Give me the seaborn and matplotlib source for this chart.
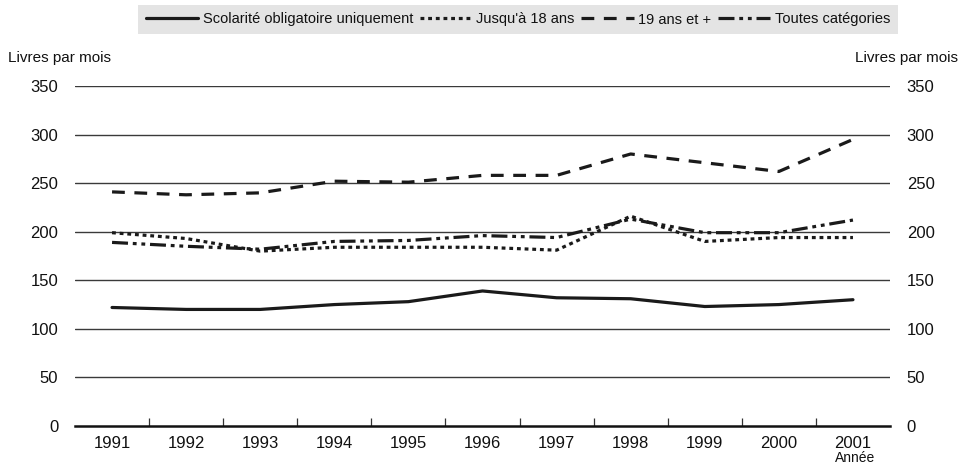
import matplotlib
matplotlib.use("Agg")
import matplotlib.pyplot as plt
from matplotlib import font_manager
import seaborn as sns
import pandas as pd
from matplotlib.lines import Line2D

years = ["1991", "1992", "1993", "1994", "1995", "1996", "1997", "1998", "1999", "2000", "2001"]
scolarite = [122, 120, 120, 125, 128, 139, 132, 131, 123, 125, 130]
jusqua18 = [199, 193, 180, 184, 184, 184, 181, 216, 190, 194, 194]
ans19plus = [241, 238, 240, 252, 251, 258, 258, 280, 271, 262, 295]
toutes = [189, 185, 182, 190, 191, 196, 194, 213, 199, 199, 212]

series_names = ["Scolarité obligatoire uniquement", "Jusqu'à 18 ans", "19 ans et +", "Toutes catégories"]
series_values = [scolarite, jusqua18, ans19plus, toutes]

rows = []
for name, vals in zip(series_names, series_values):
    for i, v in enumerate(vals):
        rows.append({"idx": i, "value": v, "series": name})
df = pd.DataFrame(rows)

sns.set_theme(style="white")
names = {f.name for f in font_manager.fontManager.ttflist}
fam = "Liberation Sans Narrow" if "Liberation Sans Narrow" in names else "Liberation Sans"
plt.rcParams["font.family"] = [fam, "DejaVu Sans"]

dashes = {
    series_names[0]: "",
    series_names[1]: (1.2, 1.2),
    series_names[2]: (4, 3),
    series_names[3]: (5, 1.5, 1.2, 1.5, 1.2, 1.5),
}
palette = {n: "#1a1a1a" for n in series_names}

fig = plt.figure(figsize=(9.62, 4.66), dpi=100)
ax = fig.add_axes([75 / 962, 1 - 426 / 466, (890 - 75) / 962, (426 - 86) / 466])

for y in range(50, 351, 50):
    ax.axhline(y, color="#3a3a3a", lw=1.0, zorder=1)

sns.lineplot(data=df, x="idx", y="value", hue="series", style="series",
             palette=palette, dashes=dashes, linewidth=2.3, ax=ax, legend=False,
             zorder=3)

ax.set_xlim(-0.5, 10.5)
ax.set_ylim(0, 350)
ax.set_xlabel("")
ax.set_ylabel("")
for s in ["top", "left", "right"]:
    ax.spines[s].set_visible(False)
ax.spines["bottom"].set_color("#111111")
ax.spines["bottom"].set_linewidth(1.8)

ax.set_xticks(range(len(years)))
ax.set_xticklabels(years, fontsize=12)
ax.set_xticks([i + 0.5 for i in range(len(years) - 1)], minor=True)
ax.tick_params(axis="x", which="major", length=0, pad=7, colors="#111111")
ax.tick_params(axis="x", which="minor", direction="in", length=6, width=0.9, color="#333333", bottom=True)

ax.set_yticks(range(0, 351, 50))
ax.tick_params(axis="y", length=0, labelsize=12, labelleft=True, labelright=True, pad=12, colors="#111111")

fig.text(8 / 962, 1 - 58 / 466, "Livres par mois", fontsize=11, ha="left", va="center", color="#111111")
fig.text(958 / 962, 1 - 58 / 466, "Livres par mois", fontsize=11, ha="right", va="center", color="#111111")
fig.text(855 / 962, 1 - 458 / 466, "Année", fontsize=10, ha="center", va="center", color="#111111")

handles = [Line2D([0], [0], color="#1a1a1a", lw=2.3,
                  linestyle=((0, dashes[n]) if dashes[n] else "-")) for n in series_names]
leg = fig.legend(handles, series_names, loc="center", bbox_to_anchor=(518 / 962, 1 - 19.5 / 466),
                 ncol=4, frameon=True, fontsize=10.5, handlelength=3.6, handletextpad=0.3,
                 columnspacing=0.45, borderpad=0.5, fancybox=False)
leg.get_frame().set_facecolor("#dedede")
leg.get_frame().set_edgecolor("none")
for t in leg.get_texts():
    t.set_color("#111111")

fig.savefig("out.png", dpi=100)
